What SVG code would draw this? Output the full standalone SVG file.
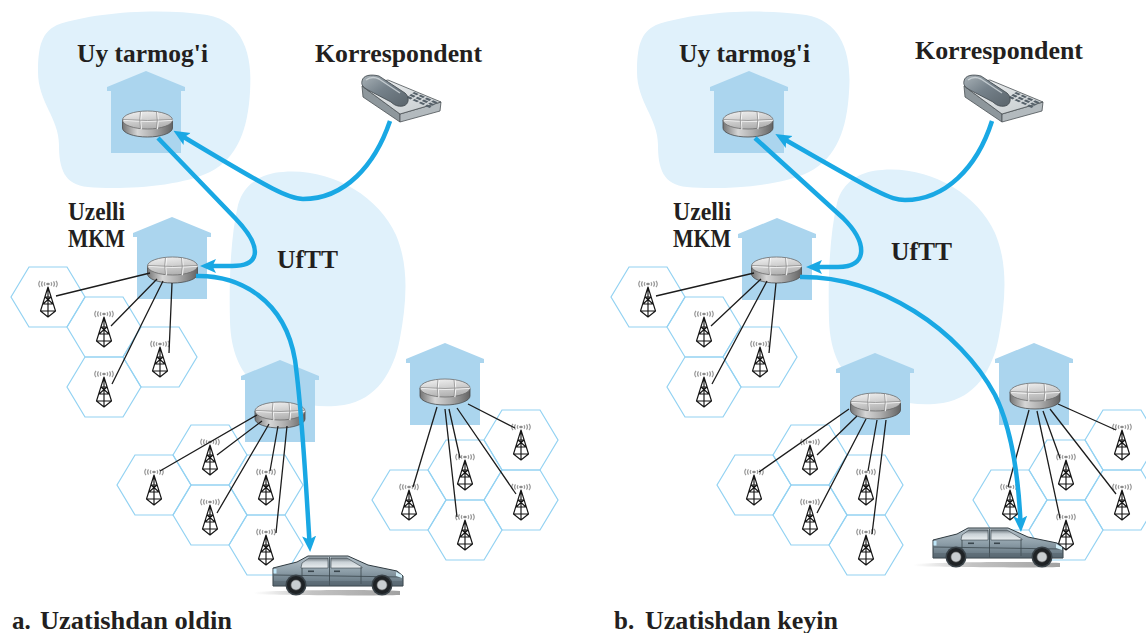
<svg xmlns="http://www.w3.org/2000/svg" width="1146" height="633" viewBox="0 0 1146 633">
<defs>
<style>
.cloud{fill:#e0f1fb}
.house{fill:#abd5ee}
.hex{fill:none;stroke:#93d2f2;stroke-width:1.2}
.link{fill:none;stroke:#1c1c1c;stroke-width:1.3}
.flow{fill:none;stroke:#19a8e4;stroke-width:4.5;stroke-linejoin:round;marker-end:url(#ah)}
.lbl{font-family:"Liberation Serif","Times New Roman",serif;font-weight:bold;font-size:25px;fill:#231f20}
</style>
<marker id="ah" markerUnits="userSpaceOnUse" viewBox="0 0 16 16" markerWidth="16" markerHeight="16" refX="6" refY="8" orient="auto">
  <path d="M0,1 L16,8 L0,15 L3.5,8 Z" fill="#19a8e4"/>
</marker>
<linearGradient id="gTop" x1="0" y1="0" x2="0.3" y2="1"><stop offset="0" stop-color="#f4f4f4"/><stop offset="1" stop-color="#b3b3b3"/></linearGradient>
<linearGradient id="gSide" x1="0" y1="0" x2="1" y2="0"><stop offset="0" stop-color="#747474"/><stop offset=".3" stop-color="#d6d6d6"/><stop offset=".6" stop-color="#aeaeae"/><stop offset="1" stop-color="#636363"/></linearGradient>
<linearGradient id="gCar" x1="0" y1="0" x2="0" y2="1"><stop offset="0" stop-color="#b6c2ca"/><stop offset=".5" stop-color="#8e9fa9"/><stop offset="1" stop-color="#5e6f7a"/></linearGradient>
<linearGradient id="gGlass" x1="0" y1="0" x2="0" y2="1"><stop offset="0" stop-color="#6d7880"/><stop offset=".4" stop-color="#c9d1d6"/><stop offset="1" stop-color="#e9eef0"/></linearGradient>
<linearGradient id="gShadow" x1="0" y1="0" x2="1" y2="0"><stop offset="0" stop-color="#9a9a9a" stop-opacity="0"/><stop offset=".4" stop-color="#9a9a9a" stop-opacity=".6"/><stop offset="1" stop-color="#8a8a8a" stop-opacity=".8"/></linearGradient>
<linearGradient id="gPhone" x1="0" y1="0" x2="1" y2="1"><stop offset="0" stop-color="#f0f2f3"/><stop offset="1" stop-color="#c3c9cc"/></linearGradient>
<linearGradient id="gHandset" x1="0" y1="0" x2="1" y2="1"><stop offset="0" stop-color="#aab3b8"/><stop offset=".45" stop-color="#75818a"/><stop offset="1" stop-color="#5a646b"/></linearGradient>

<!-- flat-topped cell -->
<path id="hex" d="M-37,0 L-19,-30 L19,-30 L37,0 L19,30 L-19,30 Z"/>

<!-- building outline, origin at roof peak -->
<path id="houseShape" d="M-35,82 V20 H-39 V16 L0,0 L39,16 V20 H35 V82 Z"/>

<!-- router disc, origin at centre of top face -->
<g id="rtr">
  <path d="M-25,0 V8 A25,9 0 0 0 25,8 V0 Z" fill="url(#gSide)" stroke="#4a4a4a" stroke-width=".8"/>
  <ellipse rx="25" ry="9" fill="url(#gTop)" stroke="#6b6b6b" stroke-width=".8"/>
  <path d="M-7,-8.7 Q-8.5,0 -7,8.7 M9,-8.5 Q10.5,0 9,8.5 M-24.5,-0.5 Q0,1.5 24.5,-0.5" fill="none" stroke="#ffffff" stroke-width="1.4" opacity=".85" transform="translate(.8,.6)"/>
  <path d="M-7,-8.7 Q-8.5,0 -7,8.7 M9,-8.5 Q10.5,0 9,8.5 M-24.5,-0.5 Q0,1.5 24.5,-0.5" fill="none" stroke="#8d8d8d" stroke-width=".8"/>
</g>

<!-- lattice antenna tower, origin at cell centre -->
<g id="twr">
  <path d="M-3,-14.8 Q-4.5,-13 -3,-11.2 M3,-14.8 Q4.5,-13 3,-11.2 M-5.5,-15.6 Q-7.5,-13 -5.5,-10.4 M5.5,-15.6 Q7.5,-13 5.5,-10.4 M-8,-16.2 Q-10.5,-13 -8,-9.8 M8,-16.2 Q10.5,-13 8,-9.8" fill="none" stroke="#9a9a9a" stroke-width="1.2"/>
  <ellipse cy="-13" rx="1.8" ry="1.3" fill="#8c8c8c"/>
  <path d="M0,-10 L-7.5,14 L0,20 L7.5,14 Z M0,-10 V20 M-3,0 H3 M-5,7 H5 M-7.5,14 H7.5 M-3,0 L5,7 M3,0 L-5,7" fill="none" stroke="#151515" stroke-width="1.15" stroke-linejoin="round"/>
</g>

<!-- desk telephone, origin at top-left -->
<g id="phoneShape">
  <path d="M0,11 L38,39 L38,47 L1,22 Z" fill="#8e979c" stroke="#4b5256" stroke-width=".8"/>
  <path d="M38,39 L79,27 L78,36 L38,47 Z" fill="#b3babe" stroke="#4b5256" stroke-width=".8"/>
  <path d="M0,11 L26,5 L79,27 L38,39 Z" fill="url(#gPhone)" stroke="#4b5256" stroke-width=".8"/>
  <g transform="matrix(.9,.4,-.5,.35,46,13)" fill="#56616a">
    <rect x="8" y="2" width="5" height="4"/><rect x="15" y="2" width="5" height="4"/><rect x="22" y="2" width="5" height="4"/><rect x="29" y="2" width="5" height="4"/>
    <rect x="8" y="8" width="5" height="4"/><rect x="15" y="8" width="5" height="4"/><rect x="22" y="8" width="5" height="4"/><rect x="29" y="8" width="5" height="4"/>
    <rect x="8" y="14" width="5" height="4"/><rect x="15" y="14" width="5" height="4"/><rect x="22" y="14" width="5" height="4"/><rect x="29" y="14" width="5" height="4"/>
  </g>
  <path d="M0,6 C1,0 9,-1 17,1 L43,18 C48,22 47,30 41,31 C36,32 32,30 29,27 L6,15 C1,12 -1,10 0,6 Z" fill="url(#gHandset)" stroke="#3d454a" stroke-width=".8"/>
  <path d="M4,5 C8,2 13,2 17,4 L38,18" fill="none" stroke="#d5dbde" stroke-width="1.4" opacity=".8"/>
</g>

<!-- sedan, origin at top-left of body -->
<g id="carShape">
  <path d="M-18,37 C10,35 100,34 128,36 L128,40 C100,41 10,40 -18,39 Z" fill="url(#gShadow)"/>
  <path d="M1,13 L25,7 L36,1 L76,1 L96,10 L125,16 L131,21 L131,31 L1,31 Z" fill="url(#gCar)" stroke="#2f3a40" stroke-width="1" stroke-linejoin="round"/>
  <path d="M30,8 L37,3 L56,3 L56,13 L29,13 Z" fill="url(#gGlass)" stroke="#3a454c" stroke-width=".6"/>
  <path d="M59,3 L75,3 L90,12 L90,13 L59,13 Z" fill="url(#gGlass)" stroke="#3a454c" stroke-width=".6"/>
  <path d="M57.5,2 V31 M89,12 V29 M30,13 V30 M2,20 L130,22" fill="none" stroke="#3a464d" stroke-width=".8"/>
  <rect x="36" y="15.5" width="6" height="1.6" fill="#3a464d"/>
  <rect x="62" y="15.5" width="6" height="1.6" fill="#3a464d"/>
  <rect x="1.5" y="14" width="3" height="4.5" fill="#bfe6f7"/>
  <path d="M124,17 L130,20 L130,23 L124,21 Z" fill="#d2eff9"/>
  <rect x="1" y="26" width="130" height="5" fill="#4f5d66" opacity=".45"/>
  <circle cx="24" cy="30" r="10.5" fill="#3a4349"/>
  <circle cx="110" cy="30" r="10.5" fill="#3a4349"/>
  <circle cx="24" cy="30" r="9" fill="#1f2326"/>
  <circle cx="110" cy="30" r="9" fill="#1f2326"/>
  <circle cx="24" cy="30" r="5" fill="#c9ced1" stroke="#777" stroke-width=".6"/>
  <circle cx="110" cy="30" r="5" fill="#c9ced1" stroke="#777" stroke-width=".6"/>
</g>
</defs>

<rect width="1146" height="633" fill="#ffffff"/>

<!-- network regions -->
<g id="regions">
  <path id="home-cloud-a" class="cloud" d="M57,25 C95,12 160,8 207,15 C243,21 253,55 250,92 C248,128 238,158 210,172 C180,187 120,190 88,187 C64,185 59,168 59,145 C59,118 38,102 38,72 C38,46 42,32 57,25 Z"/>
  <path id="visited-cloud-a" class="cloud" d="M283,172 C330,168 378,195 396,235 C410,268 406,305 400,338 C394,372 376,400 344,405 C312,410 288,400 265,390 C243,380 231,355 230,322 C229,285 230,240 238,205 C244,183 262,173 283,172 Z"/>
  <path id="home-cloud-b" class="cloud" transform="translate(599,0)" d="M57,25 C95,12 160,8 207,15 C243,21 253,55 250,92 C248,128 238,158 210,172 C180,187 120,190 88,187 C64,185 59,168 59,145 C59,118 38,102 38,72 C38,46 42,32 57,25 Z"/>
  <path id="visited-cloud-b" class="cloud" transform="translate(599,-2)" d="M283,172 C330,168 378,195 396,235 C410,268 406,305 400,338 C394,372 376,400 344,405 C312,410 288,400 265,390 C243,380 231,355 230,322 C229,285 230,240 238,205 C244,183 262,173 283,172 Z"/>
</g>

<!-- buildings -->
<g id="buildings">
  <use href="#houseShape" class="house" x="146" y="71"/>
  <use href="#houseShape" class="house" x="172" y="217"/>
  <use href="#houseShape" class="house" x="280" y="360"/>
  <use href="#houseShape" class="house" x="445" y="343"/>
  <use href="#houseShape" class="house" x="749" y="71"/>
  <use href="#houseShape" class="house" x="777" y="218"/>
  <use href="#houseShape" class="house" x="875" y="353"/>
  <use href="#houseShape" class="house" x="1034" y="343"/>
</g>

<!-- radio cells -->
<g id="cells">
  <g id="cells-a-left">
    <use href="#hex" class="hex" x="48" y="297"/><use href="#hex" class="hex" x="104" y="327"/><use href="#hex" class="hex" x="160" y="357"/><use href="#hex" class="hex" x="104" y="387"/>
  </g>
  <g id="cells-a-mid">
    <use href="#hex" class="hex" x="154" y="485"/><use href="#hex" class="hex" x="210" y="455"/><use href="#hex" class="hex" x="266" y="485"/><use href="#hex" class="hex" x="210" y="515"/><use href="#hex" class="hex" x="266" y="545"/>
  </g>
  <g id="cells-a-right">
    <use href="#hex" class="hex" x="409" y="500"/><use href="#hex" class="hex" x="465" y="470"/><use href="#hex" class="hex" x="465" y="530"/><use href="#hex" class="hex" x="521" y="440"/><use href="#hex" class="hex" x="521" y="500"/>
  </g>
  <g id="cells-b-left">
    <use href="#hex" class="hex" x="648" y="297"/><use href="#hex" class="hex" x="704" y="327"/><use href="#hex" class="hex" x="760" y="357"/><use href="#hex" class="hex" x="704" y="387"/>
  </g>
  <g id="cells-b-mid">
    <use href="#hex" class="hex" x="754" y="485"/><use href="#hex" class="hex" x="810" y="455"/><use href="#hex" class="hex" x="866" y="485"/><use href="#hex" class="hex" x="810" y="515"/><use href="#hex" class="hex" x="866" y="545"/>
  </g>
  <g id="cells-b-right">
    <use href="#hex" class="hex" x="1010" y="500"/><use href="#hex" class="hex" x="1066" y="470"/><use href="#hex" class="hex" x="1066" y="530"/><use href="#hex" class="hex" x="1122" y="440"/><use href="#hex" class="hex" x="1122" y="500"/>
  </g>
</g>

<!-- base station towers -->
<g id="towers">
  <use id="bs-a1" href="#twr" x="48" y="297"/><use id="bs-a2" href="#twr" x="104" y="327"/><use id="bs-a3" href="#twr" x="160" y="357"/><use id="bs-a4" href="#twr" x="104" y="387"/>
  <use id="bs-a5" href="#twr" x="154" y="485"/><use id="bs-a6" href="#twr" x="210" y="455"/><use id="bs-a7" href="#twr" x="266" y="485"/><use id="bs-a8" href="#twr" x="210" y="515"/><use id="bs-a9" href="#twr" x="266" y="545"/>
  <use id="bs-a10" href="#twr" x="409" y="500"/><use id="bs-a11" href="#twr" x="465" y="470"/><use id="bs-a12" href="#twr" x="465" y="530"/><use id="bs-a13" href="#twr" x="521" y="440"/><use id="bs-a14" href="#twr" x="521" y="500"/>
  <use id="bs-b1" href="#twr" x="648" y="297"/><use id="bs-b2" href="#twr" x="704" y="327"/><use id="bs-b3" href="#twr" x="760" y="357"/><use id="bs-b4" href="#twr" x="704" y="387"/>
  <use id="bs-b5" href="#twr" x="754" y="485"/><use id="bs-b6" href="#twr" x="810" y="455"/><use id="bs-b7" href="#twr" x="866" y="485"/><use id="bs-b8" href="#twr" x="810" y="515"/><use id="bs-b9" href="#twr" x="866" y="545"/>
  <use id="bs-b10" href="#twr" x="1010" y="500"/><use id="bs-b11" href="#twr" x="1066" y="470"/><use id="bs-b12" href="#twr" x="1066" y="530"/><use id="bs-b13" href="#twr" x="1122" y="440"/><use id="bs-b14" href="#twr" x="1122" y="500"/>
</g>

<!-- routers -->
<g id="home-router-a"><use href="#rtr" x="147.5" y="120"/></g>
<g id="anchor-router-a"><use href="#rtr" x="172.5" y="266"/></g>
<g id="mid-router-a"><use href="#rtr" x="280" y="411"/></g>
<g id="right-router-a"><use href="#rtr" x="445" y="388"/></g>
<g id="home-router-b"><use href="#rtr" x="748" y="120"/></g>
<g id="anchor-router-b"><use href="#rtr" x="776.5" y="266"/></g>
<g id="mid-router-b"><use href="#rtr" x="875.5" y="402"/></g>
<g id="right-router-b"><use href="#rtr" x="1035" y="392"/></g>

<!-- correspondents -->
<g id="corr-a"><use href="#phoneShape" x="362" y="75"/></g>
<g id="corr-b"><use href="#phoneShape" x="964" y="75"/></g>

<!-- mobile node -->
<g id="car-a"><use href="#carShape" x="272" y="555"/></g>
<g id="car-b"><use href="#carShape" x="932" y="527"/></g>

<g id="connectors">
  <g id="backhaul">
    <path class="link" d="M150,273 L56,296 M157,279 L111,326 M163,281 L112,384 M172,283 L169,353"/>
    <path class="link" d="M257,415 L160,471 M262,421 L217,455 M269,424 L217,513 M278,426 L270,471 M287,426 L276,533"/>
    <path class="link" d="M437,407 L413,487 M445,409 L457,517 M449,409 L460,458 M457,408 L516,494 M468,404 L515,428"/>
    <path class="link" d="M754,273 L656,296 M761,279 L711,326 M767,281 L712,384 M776,283 L769,353"/>
    <path class="link" d="M849,409 L759,472 M857,416 L817,455 M866,419 L817,513 M877,420 L868,471 M886,420 L872,534"/>
    <path class="link" d="M1029,410 L1008,487 M1037,411 L1060,518 M1043,411 L1060,458 M1050,409 L1116,494 M1058,404 L1116,430"/>
  </g>
  <g id="flows">
    <path class="flow" d="M390,121 C375,165 345,199 303,199 C290,199 275,192 182,136"/>
    <path class="flow" d="M158,138 L235,218 C262,246 262,266 232,266 L210,266"/>
    <path class="flow" d="M196,276 C240,275 285,300 295,360 C302,410 305,470 309.5,542"/>
    <path class="flow" d="M992,121 C977,168 945,200 905,200 C890,200 878,193 784,139"/>
    <path class="flow" d="M755,138 L843,218 C868,243 868,267 838,267 L816,267"/>
    <path class="flow" d="M800,277 C880,276 960,330 995,395 C1010,425 1018,470 1020.5,522"/>
  </g>
</g>

<!-- labels -->
<g id="labels">
  <text class="lbl" x="77" y="62" textLength="131" lengthAdjust="spacingAndGlyphs">Uy tarmog'i</text>
  <text class="lbl" x="315" y="62" textLength="167" lengthAdjust="spacingAndGlyphs">Korrespondent</text>
  <text class="lbl" x="68" y="220" textLength="57" lengthAdjust="spacingAndGlyphs">Uzelli</text>
  <text class="lbl" x="68" y="247" textLength="57" lengthAdjust="spacingAndGlyphs">MKM</text>
  <text class="lbl" x="277" y="268" textLength="61" lengthAdjust="spacingAndGlyphs">UfTT</text>
  <text class="lbl" x="12" y="629">a.</text>
  <text class="lbl" x="40" y="629" textLength="192" lengthAdjust="spacingAndGlyphs">Uzatishdan oldin</text>

  <text class="lbl" x="679" y="62" textLength="131" lengthAdjust="spacingAndGlyphs">Uy tarmog'i</text>
  <text class="lbl" x="915" y="59" textLength="168" lengthAdjust="spacingAndGlyphs">Korrespondent</text>
  <text class="lbl" x="673" y="220" textLength="58" lengthAdjust="spacingAndGlyphs">Uzelli</text>
  <text class="lbl" x="673" y="247" textLength="58" lengthAdjust="spacingAndGlyphs">MKM</text>
  <text class="lbl" x="891" y="260" textLength="61" lengthAdjust="spacingAndGlyphs">UfTT</text>
  <text class="lbl" x="614" y="629">b.</text>
  <text class="lbl" x="645" y="629" textLength="193" lengthAdjust="spacingAndGlyphs">Uzatishdan keyin</text>
</g>
</svg>
